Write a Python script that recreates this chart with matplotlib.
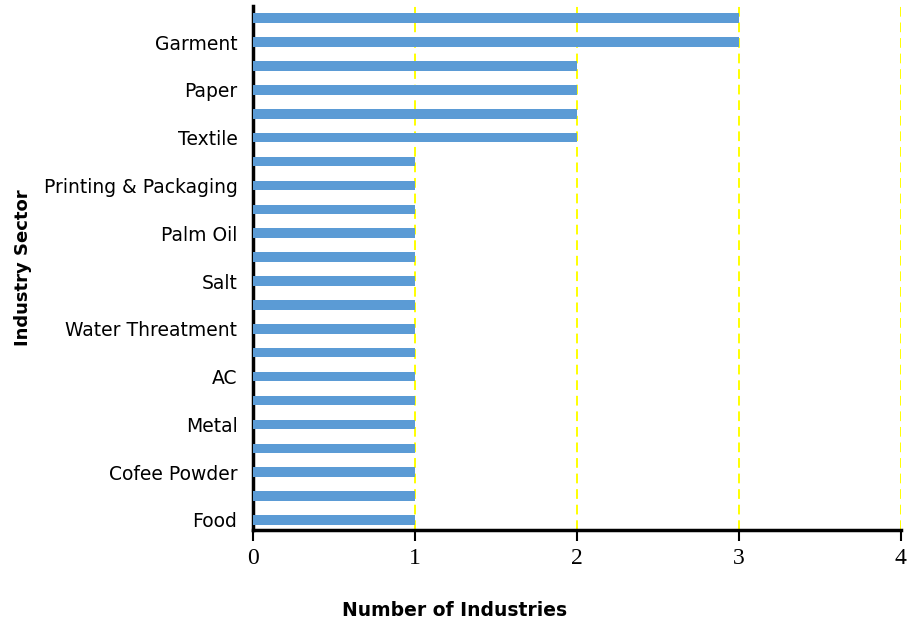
import matplotlib.pyplot as plt

# bars listed bottom to top; only every other bar carries a label
sectors = ['Food', '', 'Cofee Powder', '', 'Metal', '', 'AC', '',
           'Water Threatment', '', 'Salt', '', 'Palm Oil', '',
           'Printing & Packaging', '', 'Textile', '', 'Paper', '',
           'Garment', '']
counts = [1, 1, 1, 1, 1, 1, 1, 1, 1, 1, 1, 1, 1, 1, 1, 1,
          2, 2, 2, 2, 3, 3]
x_ticks = [0, 1, 2, 3, 4]

fig = plt.figure(figsize=(9.09, 6.21), dpi=100)
ax = fig.add_axes([0.278, 0.1465, 0.713, 0.8435])

pos = list(range(len(counts)))
ax.barh(pos, counts, height=0.4, color='#5B9BD5', zorder=3)

ax.set_xlim(0, 4)
ax.set_ylim(-0.42, len(counts) - 0.5)
ax.set_xticks(x_ticks)
ax.set_xticklabels([str(t) for t in x_ticks], family='Liberation Serif', fontsize=17)
ax.set_yticks(pos[::2])
ax.set_yticklabels(sectors[::2], fontsize=13.5)
ax.tick_params(axis='y', length=0, pad=11)
ax.tick_params(axis='x', length=8, width=1.5, pad=5)

# dashed yellow gridlines at each integer
for t in x_ticks[1:]:
    ax.axvline(t, color='#FFFF00', linestyle=(0, (5, 3)), linewidth=1.4, zorder=1)

for side in ['top', 'right']:
    ax.spines[side].set_visible(False)
ax.spines['left'].set_linewidth(2.5)
ax.spines['bottom'].set_linewidth(2.5)

ax.set_xlabel('Number of Industries', fontsize=13.5, fontweight='bold', labelpad=20)
ax.xaxis.set_label_coords(0.312, -0.135)
ax.set_ylabel('Industry Sector', fontsize=13, fontweight='bold', labelpad=8)

fig.savefig('out.png', dpi=100)
